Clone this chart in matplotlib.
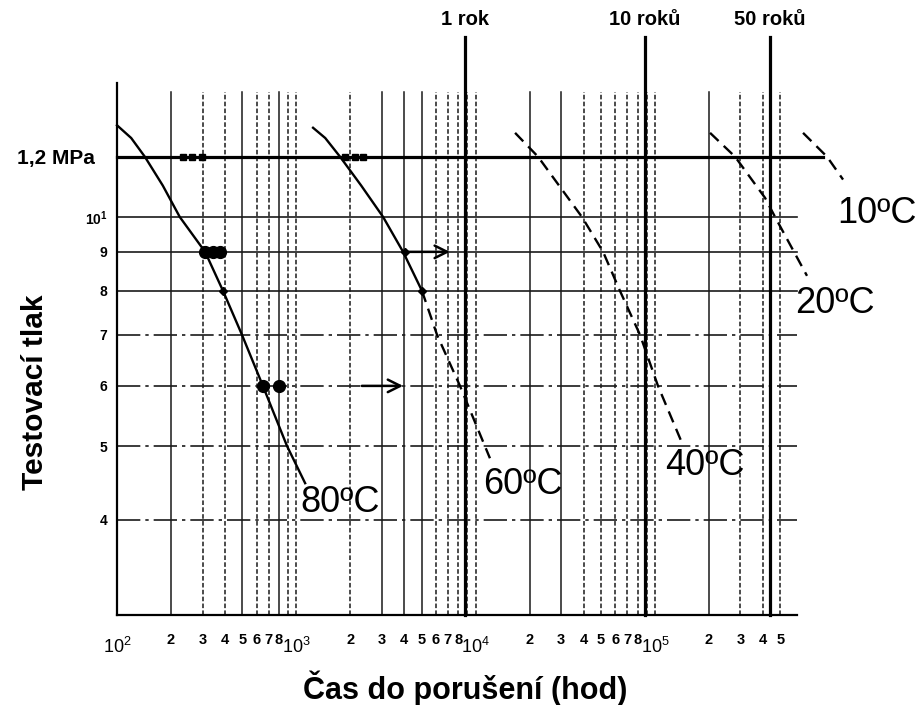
import numpy as np
import matplotlib
matplotlib.use('Agg')
import matplotlib.pyplot as plt

plt.rcParams['font.family'] = ['Liberation Sans', 'DejaVu Sans']
plt.rcParams['mathtext.fontset'] = 'custom'
plt.rcParams['mathtext.rm'] = 'Liberation Sans'
plt.rcParams['mathtext.default'] = 'regular'

# ---------------- data ----------------
pressure_levels = [4, 5, 6, 7, 8, 9, 10, 12]
pressure_labels = ['4', '5', '6', '7', '8', '9', r'$10^1$', '1,2 MPa']

major_x = [1e2, 1e3, 1e4, 1e5]
major_x_labels = [r'$10^2$', r'$10^3$', r'$10^4$', r'$10^5$']
minor_mult = [2, 3, 4, 5, 6, 7, 8, 9]
minor_x = [m * 10.0 ** k for k in (2, 3, 4) for m in minor_mult] + [2e5, 3e5, 4e5, 5e5]
minor_x_labels = [('' if m == 9 else str(m)) for k in (2, 3, 4) for m in minor_mult] + ['2', '3', '4', '5']

year_hours = [8760, 87600, 438000]
year_labels = ['1 rok', '10 roků', '50 roků']

curve_80_x = [100, 120, 143, 180, 224, 310, 390, 498, 651, 888, 1120]
curve_80_y = [13.2, 12.7, 12, 11.0, 10, 9, 8, 7, 6, 5, 4.47]
curve_60_solid_x = [1240, 1450, 1754, 2300, 3050, 3940, 5020]
curve_60_solid_y = [13.1, 12.7, 12, 11.0, 10, 9, 8]
curve_60_dash_x = [5020, 6095, 8180, 11270, 12020]
curve_60_dash_y = [8, 7, 6, 5, 4.82]
curve_40_x = [16600, 22300, 39200, 51400, 63800, 82600, 104000, 141500]
curve_40_y = [12.9, 12, 10, 9, 8, 7, 6, 5.05]
curve_20_x = [203000, 280000, 411000, 468000, 705000]
curve_20_y = [12.9, 12, 10.6, 10, 8.37]
curve_10_x = [670000, 912000, 1120000]
curve_10_y = [12.9, 12, 11.2]

curve_labels = ['80ºC', '60ºC', '40ºC', '20ºC', '10ºC']
curve_label_x = [1050, 11000, 113700, 604000, 1040000]
curve_label_y = [4.21, 4.45, 4.72, 7.69, 10.1]

squares_x = [233, 262, 298, 1870, 2120, 2360]
squares_y = [12, 12, 12, 12, 12, 12]
dots_x = [310, 343, 375, 651, 801]
dots_y = [9, 9, 9, 6, 6]
small_x = [4040, 5020, 390]
small_y = [9, 8, 8]
arrow_start_x = [4040, 2320]
arrow_end_x = [7190, 3940]
arrow_y = [9, 6]

# ---------------- figure ----------------
fig = plt.figure(figsize=(9.18, 7.05), dpi=100)
ax = fig.add_axes([117 / 918, 90 / 705, 680 / 918, 532 / 705])
ax.set_xscale('log')
ax.set_yscale('log')
ax.set_xlim(100, 6.2e5)
ax.set_ylim(3.0, 15.0)

for s in ('top', 'right'):
    ax.spines[s].set_visible(False)
ax.spines['left'].set_linewidth(1.6)
ax.spines['bottom'].set_linewidth(1.6)

# vertical grid lines
dotted = (0, (3, 1.5))
solid_set = {200, 500, 800, 3000, 4000, 5000, 20000, 30000, 2e5}
for xv in minor_x + major_x[1:]:
    ls = '-' if any(abs(xv - s) < 1e-6 for s in solid_set) else dotted
    ax.plot([xv, xv], [3.0, 14.6], color='#1a1a1a', lw=1.1, ls=ls, zorder=1)

# horizontal grid lines
dashdot = (0, (14, 3, 2, 3))
h_styles = {4: dashdot, 5: dashdot, 6: dashdot, 7: dashdot, 8: '-', 9: '-', 10: '-'}
for yv in pressure_levels:
    if yv == 12:
        ax.plot([100, 8.7e5], [yv, yv], color='black', lw=2.3, clip_on=False, zorder=2)
    else:
        ax.plot([100, 6.2e5], [yv, yv], color='#1a1a1a', lw=1.2, ls=h_styles[yv],
                clip_on=False, zorder=1)

# year lines
for xv, lab in zip(year_hours, year_labels):
    ax.plot([xv, xv], [3.0, 17.24], color='black', lw=2.3, clip_on=False, zorder=3)
    ax.text(xv, 18.2, lab, ha='center', va='center', fontsize=14.5,
            fontweight='bold')

# curves
dash = (0, (5, 3))
ax.plot(curve_80_x, curve_80_y, color='black', lw=1.7, zorder=4, clip_on=False)
ax.plot(curve_60_solid_x, curve_60_solid_y, color='black', lw=1.7, zorder=4)
ax.plot(curve_60_dash_x, curve_60_dash_y, color='black', lw=1.7, ls=dash, zorder=4)
ax.plot(curve_40_x, curve_40_y, color='black', lw=1.7, ls=dash, zorder=4)
ax.plot(curve_20_x, curve_20_y, color='black', lw=1.7, ls=dash, zorder=4, clip_on=False)
ax.plot(curve_10_x, curve_10_y, color='black', lw=1.7, ls=dash, zorder=4, clip_on=False)

for xv, yv, lab in zip(curve_label_x, curve_label_y, curve_labels):
    ax.text(xv, yv, lab, ha='left', va='center', fontsize=26, clip_on=False)

# markers
ax.plot(squares_x, squares_y, 's', color='black', ms=5, zorder=5)
ax.plot(dots_x, dots_y, 'o', color='black', ms=8.5, zorder=5)
ax.plot(small_x, small_y, 'D', color='black', ms=4, zorder=5)
for x0, x1, yv in zip(arrow_start_x, arrow_end_x, arrow_y):
    ax.annotate('', xy=(x1, yv), xytext=(x0, yv),
                arrowprops=dict(arrowstyle='->,head_length=0.9,head_width=0.45',
                                lw=1.8, color='black', shrinkA=0, shrinkB=0),
                zorder=5)

# ticks
ax.set_yticks(pressure_levels)
ax.set_yticklabels(pressure_labels)
ax.yaxis.set_minor_locator(matplotlib.ticker.NullLocator())
ax.tick_params(axis='y', which='both', length=0, pad=7, labelsize=10)
for t in ax.get_yticklabels():
    t.set_fontweight('bold')
last = ax.get_yticklabels()[-1]
last.set_fontsize(15)
last.set_x(-0.018)

ax.set_xticks(major_x)
ax.set_xticklabels(major_x_labels)
ax.set_xticks(minor_x, minor=True)
ax.set_xticklabels(minor_x_labels, minor=True)
ax.tick_params(axis='x', which='major', length=0, pad=16, labelsize=13)
ax.tick_params(axis='x', which='minor', length=0, pad=13, labelsize=10.5)
for t in ax.get_xticklabels(minor=True):
    t.set_fontweight('bold')

fig.text(465 / 918, 1 - 688 / 705, 'Čas do porušení (hod)', ha='center', va='center',
         fontsize=22, fontweight='bold')
fig.text(35 / 918, 1 - 392 / 705, 'Testovací tlak', ha='center', va='center',
         fontsize=21.5, fontweight='bold', rotation=90)

fig.savefig('out.png', dpi=100)
